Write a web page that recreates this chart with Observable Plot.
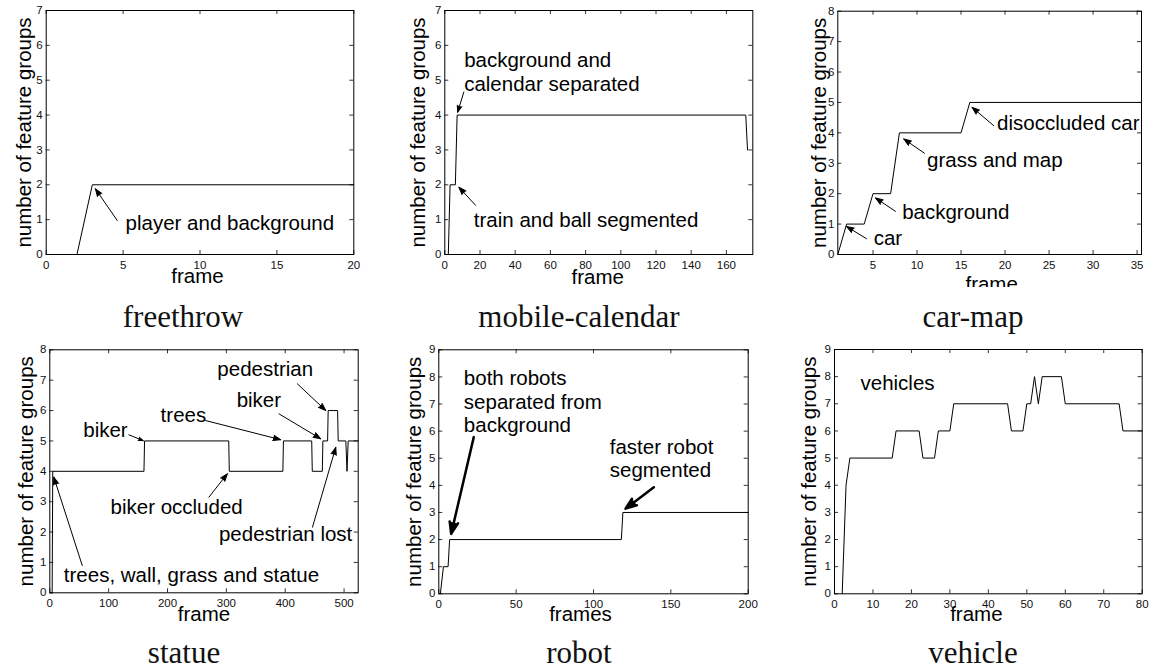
<!DOCTYPE html>
<html>
<head>
<meta charset="utf-8">
<script src="https://cdn.jsdelivr.net/npm/d3@7"></script>
<script src="https://cdn.jsdelivr.net/npm/@observablehq/plot@0.6"></script>
<style>
  html, body { margin: 0; padding: 0; background: #fff; }
  #page { position: relative; width: 1151px; height: 671px; overflow: hidden; background: #fff; }
  .panel { position: absolute; }
  .title {
    position: absolute; width: 300px; text-align: center;
    font-family: "Liberation Serif", "Times New Roman", serif;
    font-size: 31px; line-height: 31px; color: #111; white-space: nowrap;
  }
</style>
</head>
<body>
<div id="page"></div>
<script>
// Number of feature groups over the frames of each sequence
const freethrowFrames = [0, 2, 3, 20];
const freethrowGroups = [0, 0, 2, 2];

const mobileFrames = [2, 3, 6, 7, 171, 172];
const mobileGroups = [0, 2, 2, 4, 4, 3];

const carmapFrames = [1, 2, 4, 5, 7, 8, 15, 16, 36];
const carmapGroups = [0, 1, 1, 2, 2, 4, 4, 5, 5];

const statueFrames = [1, 4, 5, 160, 161, 304, 305, 396, 397, 445, 446, 463, 464, 472, 473, 489, 490, 503, 505, 507, 524];
const statueGroups = [0, 0, 4, 4, 5, 5, 4, 4, 5, 5, 4, 4, 5, 5, 6, 6, 5, 5, 4, 5, 5];

const robotFrames = [1, 3, 6, 7, 118, 119, 200];
const robotGroups = [0, 1, 1, 2, 2, 3, 3];

const vehicleFrames = [2, 3, 4, 15, 16, 22, 23, 26, 27, 30, 31, 45, 46, 49, 50, 51, 52, 53, 54, 59, 60, 74, 75, 80];
const vehicleGroups = [0, 4, 5, 5, 6, 6, 5, 5, 6, 6, 7, 7, 6, 6, 7, 7, 8, 7, 8, 8, 7, 7, 6, 6];

// Tick values
const freethrowXTicks = [0, 5, 10, 15, 20];
const mobileXTicks = [0, 20, 40, 60, 80, 100, 120, 140, 160];
const carmapXTicks = [5, 10, 15, 20, 25, 30, 35];
const statueXTicks = [0, 100, 200, 300, 400, 500];
const robotXTicks = [0, 50, 100, 150, 200];
const vehicleXTicks = [0, 10, 20, 30, 40, 50, 60, 70, 80];
const yTicks7 = [0, 1, 2, 3, 4, 5, 6, 7];
const yTicks8 = [0, 1, 2, 3, 4, 5, 6, 7, 8];
const yTicks9 = [0, 1, 2, 3, 4, 5, 6, 7, 8, 9];

// Annotations (text baseline of the last line, and arrows, in data units)
const freethrowNotes = [{text: "player and background", x: 5.16, y: 0.69}];
const freethrowArrows = [{x1: 4.62, y1: 0.975, x2: 3.2, y2: 1.885}];

const mobileNotes = [
  {text: "background and\ncalendar separated", x: 11, y: 4.70},
  {text: "train and ball segmented", x: 16.5, y: 0.78}
];
const mobileArrows = [
  {x1: 10.8, y1: 4.66, x2: 7.3, y2: 4.08},
  {x1: 17.5, y1: 1.41, x2: 8.0, y2: 1.93}
];

const carmapNotes = [
  {text: "car", x: 5.08, y: 0.30},
  {text: "background", x: 8.31, y: 1.17},
  {text: "grass and map", x: 11.14, y: 2.87},
  {text: "disoccluded car", x: 19.09, y: 4.08}
];
const carmapArrows = [
  {x1: 4.26, y1: 0.52, x2: 1.99, y2: 0.92},
  {x1: 7.55, y1: 1.42, x2: 5.28, y2: 1.86},
  {x1: 10.84, y1: 3.33, x2: 8.49, y2: 3.80},
  {x1: 18.70, y1: 4.24, x2: 16.25, y2: 4.84}
];

const statueNotes = [
  {text: "trees, wall, grass and statue", x: 23.8, y: 0.35},
  {text: "biker", x: 56.8, y: 5.12},
  {text: "trees", x: 188.3, y: 5.62},
  {text: "biker", x: 317.5, y: 6.13},
  {text: "pedestrian", x: 284.7, y: 7.15},
  {text: "biker occluded", x: 103.2, y: 2.60},
  {text: "pedestrian lost", x: 287.4, y: 1.72}
];
const statueArrows = [
  {x1: 55.1, y1: 0.90, x2: 6.8, y2: 3.81},
  {x1: 134.4, y1: 5.20, x2: 158.8, y2: 5.01},
  {x1: 264.8, y1: 5.67, x2: 392.3, y2: 5.04},
  {x1: 389.5, y1: 5.89, x2: 460.4, y2: 5.07},
  {x1: 420.7, y1: 6.88, x2: 468.9, y2: 6.0},
  {x1: 270.4, y1: 3.15, x2: 301.7, y2: 3.92},
  {x1: 446.3, y1: 2.16, x2: 485.9, y2: 4.79}
];

const robotNotes = [
  {text: "both robots\nseparated from\nbackground", x: 16.2, y: 5.96},
  {text: "faster robot\nsegmented", x: 110.5, y: 4.30}
];
const robotArrows = [
  {x1: 22.6, y1: 5.78, x2: 8.0, y2: 2.21},
  {x1: 139.0, y1: 3.93, x2: 120.7, y2: 3.14}
];

const vehicleNotes = [{text: "vehicles", x: 6.76, y: 7.5}];
const vehicleArrows = [];

const SANS = "'Liberation Sans', Arial, Helvetica, sans-serif";

const panels = [
  {frames: freethrowFrames, groups: freethrowGroups, xDomain: [0, 20], yDomain: [0, 7],
   xTicks: freethrowXTicks, yTicks: yTicks7, xLabel: "frame", notes: freethrowNotes, arrows: freethrowArrows,
   box: {left: 0, top: 0, width: 370, height: 292, ml: 45.7, mr: 16.7, mt: 10, mb: 38},
   yLabelDx: -15, xLabelDx: -2.5, xLabelDy: 28.7, arrowWidth: 1, headLength: 12, clip: false},
  {frames: mobileFrames, groups: mobileGroups, xDomain: [0, 175], yDomain: [0, 7],
   xTicks: mobileXTicks, yTicks: yTicks7, xLabel: "frame", notes: mobileNotes, arrows: mobileArrows,
   box: {left: 380, top: 0, width: 390, height: 292, ml: 64.3, mr: 17.7, mt: 10, mb: 38},
   yLabelDx: -20.3, xLabelDx: -1, xLabelDy: 29, arrowWidth: 1, headLength: 12, clip: false},
  {frames: carmapFrames, groups: carmapGroups, xDomain: [1, 35.5], yDomain: [0, 8],
   xTicks: carmapXTicks, yTicks: yTicks8, xLabel: "frame", notes: carmapNotes, arrows: carmapArrows,
   box: {left: 770, top: 0, width: 381, height: 287, ml: 67.3, mr: 10, mt: 10.7, mb: 33},
   yLabelDx: -11.5, xLabelDx: 2, xLabelDy: 36, arrowWidth: 1, headLength: 12, clip: true},
  {frames: statueFrames, groups: statueGroups, xDomain: [0, 524], yDomain: [0, 8],
   xTicks: statueXTicks, yTicks: yTicks8, xLabel: "frame", notes: statueNotes, arrows: statueArrows,
   box: {left: 0, top: 335, width: 370, height: 295, ml: 49.3, mr: 12.3, mt: 14.3, mb: 37.7},
   yLabelDx: -16.8, xLabelDx: 0, xLabelDy: 27.7, arrowWidth: 1, headLength: 12, clip: false},
  {frames: robotFrames, groups: robotGroups, xDomain: [0, 200], yDomain: [0, 9],
   xTicks: robotXTicks, yTicks: yTicks9, xLabel: "frames", notes: robotNotes, arrows: robotArrows,
   box: {left: 380, top: 335, width: 390, height: 295, ml: 58.3, mr: 22.3, mt: 14.3, mb: 36.7},
   yLabelDx: -17.5, xLabelDx: -13, xLabelDy: 27.5, arrowWidth: 2.5, headLength: 7.5, clip: false},
  {frames: vehicleFrames, groups: vehicleGroups, xDomain: [0, 80], yDomain: [0, 9],
   xTicks: vehicleXTicks, yTicks: yTicks9, xLabel: "frame", notes: vehicleNotes, arrows: vehicleArrows,
   box: {left: 770, top: 335, width: 381, height: 295, ml: 64, mr: 9.3, mt: 14, mb: 36.7},
   yLabelDx: -18.2, xLabelDx: -12, xLabelDy: 27.2, arrowWidth: 1, headLength: 12, clip: false}
];

const titles = [
  {text: "freethrow", cx: 183, baseline: 326.7},
  {text: "mobile-calendar", cx: 579, baseline: 326.7},
  {text: "car-map", cx: 973, baseline: 326.7},
  {text: "statue", cx: 184, baseline: 662.7},
  {text: "robot", cx: 579, baseline: 662.7},
  {text: "vehicle", cx: 973, baseline: 662.7}
];

const page = document.getElementById("page");
const TICK = 4;

for (const p of panels) {
  const b = p.box;
  const innerW = b.width - b.ml - b.mr;
  const innerH = b.height - b.mt - b.mb;
  const series = p.frames.map((f, i) => ({frame: f, groups: p.groups[i]}));

  const chart = Plot.plot({
    width: b.width,
    height: b.height,
    marginLeft: b.ml,
    marginRight: b.mr,
    marginTop: b.mt,
    marginBottom: b.mb,
    x: {domain: p.xDomain, axis: null},
    y: {domain: p.yDomain, axis: null},
    style: {background: "transparent", fontFamily: SANS, color: "#000", overflow: p.clip ? "hidden" : "visible"},
    marks: [
      // data curve
      Plot.line(series, {x: "frame", y: "groups", stroke: "#000", strokeWidth: 1, clip: p.clip}),
      // inward ticks on all four sides
      Plot.tickX(p.xTicks, {x: d => d, stroke: "#000", strokeWidth: 0.8, insetTop: innerH - TICK}),
      Plot.tickX(p.xTicks, {x: d => d, stroke: "#000", strokeWidth: 0.8, insetBottom: innerH - TICK}),
      Plot.tickY(p.yTicks, {y: d => d, stroke: "#000", strokeWidth: 0.8, insetRight: innerW - TICK}),
      Plot.tickY(p.yTicks, {y: d => d, stroke: "#000", strokeWidth: 0.8, insetLeft: innerW - TICK}),
      Plot.frame({stroke: "#000", strokeWidth: 1}),
      // tick labels
      Plot.text(p.xTicks, {x: d => d, text: d => String(d), frameAnchor: "bottom", dy: 14.2,
        lineAnchor: "bottom", fontSize: 11.5, fill: "#111"}),
      Plot.text(p.yTicks, {y: d => d, text: d => String(d), frameAnchor: "left", dx: -3.5,
        textAnchor: "end", fontSize: 11.5, fill: "#111"}),
      // axis titles
      Plot.text([p.xLabel], {text: d => d, frameAnchor: "bottom", dx: p.xLabelDx, dy: p.xLabelDy,
        lineAnchor: "bottom", fontSize: 20.5, fill: "#000"}),
      Plot.text(["number of feature groups"], {text: d => d, frameAnchor: "left", rotate: -90,
        dx: p.yLabelDx, lineAnchor: "bottom", textAnchor: "middle", fontSize: 20.5, fill: "#000"}),
      // annotations
      Plot.arrow(p.arrows, {x1: "x1", y1: "y1", x2: "x2", y2: "y2", stroke: "#000", fill: "#000",
        strokeWidth: p.arrowWidth, headLength: p.headLength, headAngle: 40}),
      Plot.text(p.notes, {x: "x", y: "y", text: "text", textAnchor: "start", lineAnchor: "bottom",
        lineHeight: 1.15, fontSize: 20.5, fill: "#000"})
    ]
  });

  const holder = document.createElement("div");
  holder.className = "panel";
  holder.style.left = b.left + "px";
  holder.style.top = b.top + "px";
  holder.style.width = b.width + "px";
  holder.style.height = b.height + "px";
  holder.appendChild(chart);
  page.appendChild(holder);
}

for (const t of titles) {
  const div = document.createElement("div");
  div.className = "title";
  div.textContent = t.text;
  div.style.left = (t.cx - 150) + "px";
  div.style.top = (t.baseline - 26) + "px";
  page.appendChild(div);
}
</script>
</body>
</html>
